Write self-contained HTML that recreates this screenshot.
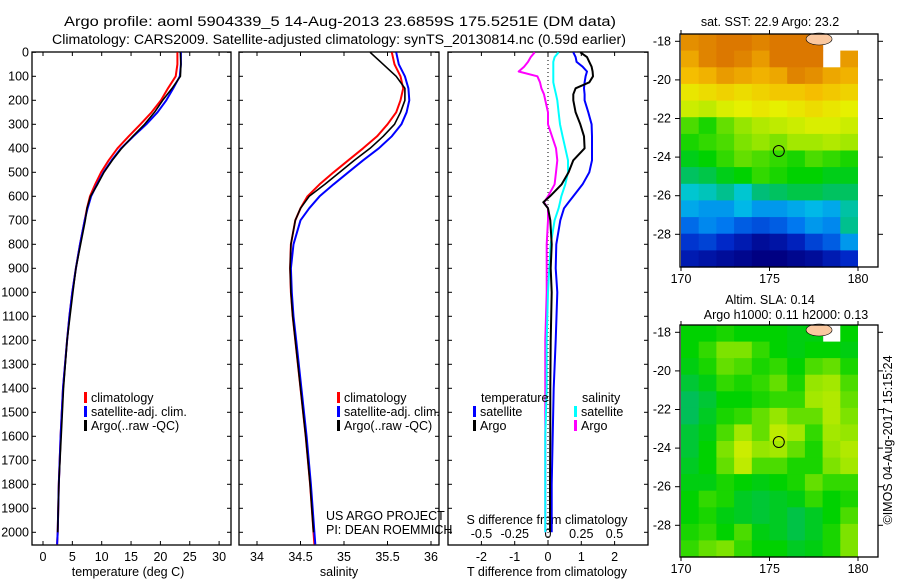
<!DOCTYPE html>
<html><head><meta charset="utf-8">
<style>
html,body{margin:0;padding:0;background:#fff;}
svg{display:block;font-family:"Liberation Sans",sans-serif;}
text{fill:#000;font-size:12.5px;}
</style></head>
<body>
<svg id="chart" width="900" height="580" viewBox="0 0 900 580" xmlns="http://www.w3.org/2000/svg">
<text x="340" y="26" text-anchor="middle" style="font-size:13.5px" textLength="552" lengthAdjust="spacingAndGlyphs">Argo profile: aoml 5904339_5 14-Aug-2013 23.6859S 175.5251E (DM data)</text>
<text x="339" y="44" text-anchor="middle" style="font-size:13.5px" textLength="574" lengthAdjust="spacingAndGlyphs">Climatology: CARS2009. Satellite-adjusted climatology: synTS_20130814.nc (0.59d earlier)</text>
<g id="g1"></g>
<g id="g2"></g>
<g id="g3"></g>
<g id="m1"></g>
<g id="m2"></g>
<text transform="translate(892,440) rotate(-90)" text-anchor="middle" style="font-size:12.5px">©IMOS 04-Aug-2017 15:15:24</text>
</svg>
<script>
// ---- profile data ----
const depths = [0,50,100,150,200,250,300,350,400,450,500,550,600,650,700,800,900,1000,1100,1200,1400,1600,1800,2000,2050];
const tempClim = [22.9,22.9,22.6,21.3,20.1,18.5,16.6,14.6,12.7,11.2,9.9,8.9,8.0,7.5,7.1,6.3,5.6,5.0,4.5,4.1,3.4,3.0,2.7,2.5,2.4];
const tempSat = [23.5,23.5,23.3,22.2,21.0,19.5,17.6,15.4,13.3,11.7,10.3,9.2,8.2,7.6,7.1,6.3,5.6,5.0,4.5,4.1,3.4,3.0,2.7,2.5,2.4];
const tempArgo = [23.4,23.5,23.4,22.0,20.4,19.0,17.3,15.3,13.4,11.8,10.4,9.3,8.1,7.5,7.2,6.4,5.6,5.1,4.6,4.1,3.5,3.1,2.7,2.5];
const salClim = [35.55,35.58,35.65,35.68,35.65,35.6,35.5,35.38,35.22,35.05,34.88,34.72,34.58,34.5,34.44,34.39,34.38,34.39,34.41,34.44,34.5,34.56,34.61,34.65,34.66];
const salSat = [35.6,35.63,35.7,35.74,35.75,35.72,35.66,35.55,35.4,35.22,35.05,34.88,34.72,34.6,34.5,34.42,34.39,34.4,34.42,34.45,34.51,34.57,34.62,34.66,34.67];
const salArgo = [35.3,35.45,35.6,35.7,35.7,35.65,35.58,35.45,35.3,35.12,34.95,34.78,34.6,34.5,34.44,34.39,34.38,34.39,34.41,34.44,34.5,34.56,34.61,34.65];
const diffDepths = [0,20,40,60,80,100,125,150,175,200,250,300,350,400,450,500,550,600,625,650,700,800,900,1000,1200,1400,1600,1800,2000];
const tDiffSat = [0.76,0.83,0.86,1.04,1.17,1.13,1.1,1.08,1.1,1.1,1.21,1.31,1.32,1.32,1.32,1.24,1.04,0.76,0.62,0.48,0.37,0.25,0.23,0.28,0.23,0.17,0.14,0.11,0.11];
const tDiffArgo = [0.97,1.17,1.24,1.31,1.34,1.35,1.24,0.83,0.76,0.76,0.83,0.97,1.08,1.1,0.76,0.62,0.41,0.06,-0.14,0,0.07,0.11,0.08,0.11,0.08,0.07,0.07,0.06,0.06];
const sDiffSat = [0.08,0.05,0.04,0.04,0.04,0.04,0.04,0.05,0.06,0.07,0.08,0.09,0.11,0.13,0.15,0.15,0.13,0.1,0.09,0.08,0.05,0.02,0.01,0.0,-0.01,-0.01,-0.02,-0.02,-0.02];
const sDiffArgo = [-0.1,-0.13,-0.15,-0.18,-0.22,-0.08,-0.06,-0.05,-0.03,-0.02,0.0,0.0,0.03,0.06,0.07,0.06,0.05,0.0,-0.03,0.0,0.0,-0.01,-0.01,-0.01,-0.02,-0.02,-0.02,-0.02,-0.02];
const depthTicks = [0,100,200,300,400,500,600,700,800,900,1000,1100,1200,1300,1400,1500,1600,1700,1800,1900,2000];
const tempTicks = [0,5,10,15,20,25,30];
const salTicks = [34,34.5,35,35.5,36];
const tdTicks = [-2,-1,0,1,2];
const sdTicks = [-0.5,-0.25,0,0.25,0.5];
const sdTickLabels = ['-0.5','-0.25','0','0.25','0.5'];
// ---- map data ----
const mapLats = [-18,-20,-22,-24,-26,-28];
const mapLons = [170,175,180];
const sst = [
[24.4,24.5,24.7,24.6,24.5,24.6,24.7,24.8,null,null],
[24.2,24.5,24.6,24.5,24.3,24.6,24.8,24.6,null,24.3],
[24.0,24.1,24.3,24.2,24.1,24.2,24.5,24.4,24.2,24.1],
[23.6,23.7,23.8,23.7,23.8,23.9,23.9,24.0,23.9,23.8],
[23.3,23.2,23.4,23.5,23.6,23.5,23.6,23.7,23.6,23.5],
[22.6,22.4,22.7,22.9,23.1,23.2,23.3,23.4,23.4,23.3],
[22.4,22.5,22.6,22.8,22.9,22.8,23.0,23.0,23.1,23.0],
[22.2,22.3,22.5,22.7,22.6,22.5,22.4,22.6,22.5,22.4],
[21.9,22.0,22.2,22.3,22.5,22.4,22.3,22.3,22.2,22.2],
[21.4,21.5,21.7,21.4,21.8,21.9,22.0,22.0,21.9,21.9],
[21.1,21.0,21.0,21.2,21.0,21.0,21.1,21.2,21.1,21.6],
[20.7,20.9,20.8,20.6,20.5,20.6,20.8,21.0,20.9,21.7],
[20.3,20.4,20.2,20.0,19.8,19.9,20.1,20.4,20.6,21.0],
[20.0,19.9,19.8,19.7,19.6,19.6,19.7,19.8,20.0,20.2]];
const sla = [
[.08,.08,.09,.08,.08,.08,.07,.07,null,.08],
[.08,.10,.13,.13,.10,.08,.07,.08,.08,.07],
[.07,.09,.12,.11,.09,.10,.08,.11,.12,.09],
[.05,.07,.10,.09,.10,.12,.09,.14,.15,.11],
[.03,.05,.08,.08,.09,.10,.10,.15,.16,.12],
[.03,.06,.09,.10,.12,.14,.12,.12,.16,.13],
[.05,.07,.11,.15,.12,.17,.15,.10,.15,.14],
[.05,.08,.13,.18,.14,.15,.12,.09,.14,.16],
[.06,.08,.12,.17,.11,.11,.09,.09,.13,.15],
[.07,.07,.09,.08,.07,.08,.09,.12,.10,.10],
[.08,.10,.09,.06,.05,.06,.07,.10,.08,.09],
[.08,.09,.07,.06,.05,.06,.04,.06,.08,.11],
[.09,.10,.08,.11,.07,.06,.04,.06,.09,.13],
[.10,.12,.13,.10,.08,.08,.06,.07,.09,.13]];
const floatLon = 175.5251, floatLat = -23.6859;

const NS='http://www.w3.org/2000/svg';
function mk(parent,tag,attrs,txt){const e=document.createElementNS(NS,tag);for(const k in attrs)e.setAttribute(k,attrs[k]);if(txt!==undefined)e.textContent=txt;parent.appendChild(e);return e;}

const TOP=52, BOT=545;
const yD = d => 52.3 + d*0.24;
const xT = v => 43 + v*5.87;
const xS = v => 257 + (v-34)*87;
const xTd = v => 548 + v*33.3;
const xSd = v => 548 + v*133;

function frame(g,x0,x1,name){
  const r=mk(g,'rect',{x:x0,y:TOP,width:x1-x0,height:BOT-TOP,fill:'none',stroke:'#000','stroke-width':1.3});
  
  
  depthTicks.forEach(d=>{const y=yD(d);
    mk(g,'line',{x1:x0,x2:x0+4,y1:y,y2:y,stroke:'#000'});
    mk(g,'line',{x1:x1-4,x2:x1,y1:y,y2:y,stroke:'#000'});});
}
function xticks(g,vals,f,labels,ly,name){
  vals.forEach((v,i)=>{const x=f(v);
    mk(g,'line',{x1:x,x2:x,y1:BOT,y2:BOT-4,stroke:'#000'});
    mk(g,'line',{x1:x,x2:x,y1:TOP,y2:TOP+4,stroke:'#000'});
    const t=mk(g,'text',{x:x,y:ly,'text-anchor':'middle'},labels?labels[i]:String(v));
    
    });
}
function line(g,xs,ds,fx,color,name,w){
  const pts=xs.map((v,i)=>fx(v).toFixed(1)+','+yD(ds[i]).toFixed(1)).join(' ');
  const p=mk(g,'polyline',{points:pts,fill:'none',stroke:color,'stroke-width':w||2,'stroke-linejoin':'round'});
  
  
}
function legend(g,x,y,color,label,name){
  mk(g,'rect',{x:x,y:y-6,width:3,height:11,fill:color});
  const t=mk(g,'text',{x:x+7,y:y+4},label);
  
  
}

// Panel 1
const g1=document.getElementById('g1');
frame(g1,32,231,'temperature-axes-frame');
depthTicks.forEach(d=>{const t=mk(g1,'text',{x:29,y:yD(d)+4,'text-anchor':'end'},String(d));
  
  });
xticks(g1,tempTicks,xT,null,561,'temperature-tick-label');
let t1=mk(g1,'text',{x:128,y:576,'text-anchor':'middle'},'temperature (deg C)');


line(g1,tempClim,depths,xT,'#f00','temp-climatology-line');
line(g1,tempSat,depths,xT,'#00f','temp-satellite-line');
line(g1,tempArgo,depths,xT,'#000','temp-argo-line',1.6);
legend(g1,84,398,'#f00','climatology','legend-climatology');
legend(g1,84,412,'#00f','satellite-adj. clim.','legend-satellite');
legend(g1,84,426,'#000','Argo(..raw -QC)','legend-argo');

// Panel 2
const g2=document.getElementById('g2');
frame(g2,239,439,'salinity-axes-frame');
xticks(g2,salTicks,xS,null,561,'salinity-tick-label');
let t2=mk(g2,'text',{x:339,y:576,'text-anchor':'middle'},'salinity');


line(g2,salClim,depths,xS,'#f00','sal-climatology-line');
line(g2,salSat,depths,xS,'#00f','sal-satellite-line');
line(g2,salArgo,depths,xS,'#000','sal-argo-line',1.6);
legend(g2,337,398,'#f00','climatology','legend-climatology-2');
legend(g2,337,412,'#00f','satellite-adj. clim.','legend-satellite-2');
legend(g2,337,426,'#000','Argo(..raw -QC)','legend-argo-2');
let p1=mk(g2,'text',{x:326,y:520},'US ARGO PROJECT');


let p2=mk(g2,'text',{x:326,y:534},'PI: DEAN ROEMMICH');



// Panel 3
const g3=document.getElementById('g3');
frame(g3,448,648,'difference-axes-frame');
mk(g3,'line',{x1:548,x2:548,y1:TOP,y2:BOT,stroke:'#000','stroke-dasharray':'1,3'});
xticks(g3,tdTicks,xTd,null,561,'t-diff-tick-label');
sdTicks.forEach((v,i)=>{const t=mk(g3,'text',{x:xSd(v),y:538,'text-anchor':'middle'},sdTickLabels[i]);
  
  });
let t3=mk(g3,'text',{x:547,y:524,'text-anchor':'middle'},'S difference from climatology');


let t4=mk(g3,'text',{x:547,y:576,'text-anchor':'middle'},'T difference from climatology');


line(g3,sDiffArgo,diffDepths,xSd,'#f0f','s-diff-argo-line');
line(g3,sDiffSat,diffDepths,xSd,'#0ff','s-diff-satellite-line');
line(g3,tDiffSat,diffDepths,xTd,'#00f','t-diff-satellite-line');
line(g3,tDiffArgo,diffDepths,xTd,'#000','t-diff-argo-line');
let lt=mk(g3,'text',{x:481,y:402},'temperature');


let ls=mk(g3,'text',{x:582,y:402},'salinity');


legend(g3,473,412,'#00f','satellite','legend-t-satellite');
legend(g3,473,426,'#000','Argo','legend-t-argo');
legend(g3,574,412,'#0ff','satellite','legend-s-satellite');
legend(g3,574,426,'#f0f','Argo','legend-s-argo');

// Maps
function interp(stops,v){
  if(v<=stops[0][0])return stops[0][1];
  for(let i=1;i<stops.length;i++){if(v<=stops[i][0]){const a=stops[i-1],b=stops[i],t=(v-a[0])/(b[0]-a[0]);
    return 'rgb('+a[1].map((c,k)=>Math.round(c+(b[1][k]-c)*t)).join(',')+')';}}
  return 'rgb('+stops[stops.length-1][1].join(',')+')';
}
function fix(stops){return stops.map(s=>[s[0],s[1]]);}
const sstStops=[[19.6,[0,0,130]],[20.2,[0,40,200]],[20.8,[0,120,240]],[21.3,[0,200,230]],[21.8,[0,190,120]],[22.3,[0,210,0]],[22.9,[150,230,0]],[23.5,[230,240,0]],[24.0,[245,190,0]],[24.6,[220,120,0]]];
const slaStops=[[0.0,[0,180,140]],[0.08,[0,210,0]],[0.14,[150,230,0]],[0.2,[230,240,0]],[0.26,[240,200,0]]];
function interpC(stops,v){
  if(v<=stops[0][0])return 'rgb('+stops[0][1].join(',')+')';
  return interp(stops,v);
}
function drawMap(id,grid,stops,top,bot,title1,title2,name){
  const g=document.getElementById(id);
  const xL=v=>681+(v-170)*17.7;
  const lat18=top+7.3;
  const yL=v=>lat18+(-18-v)*19.3;
  const latTop=-18+(lat18-top)/19.3, latBot=-18-(bot-lat18)/19.3;
  const rows=grid.length, cols=grid[0].length, dl=(latTop-latBot)/rows;
  grid.forEach((row,r)=>row.forEach((v,c)=>{
    if(v===null)return;
    const x0=xL(170+c), y0=yL(latTop-r*dl);
    const cell=mk(g,'rect',{x:x0.toFixed(1),y:y0.toFixed(1),width:(17.7+0.6).toFixed(1),height:(dl*19.3+0.6).toFixed(1),fill:interpC(stops,v)});
    
    
  }));
  mk(g,'ellipse',{cx:xL(177.8),cy:top+5,rx:13,ry:6,fill:'#fac8a0',stroke:'#000','stroke-width':0.6});
  mk(g,'rect',{x:xL(180),y:top,width:878-xL(180),height:bot-top,fill:'#fff'});
  const fr=mk(g,'rect',{x:680,y:top,width:198,height:bot-top,fill:'none',stroke:'#000','stroke-width':1.3});
  
  
  const circ=mk(g,'circle',{cx:xL(floatLon),cy:yL(floatLat),r:5.5,fill:'none',stroke:'#000','stroke-width':1});
  
  
  mapLats.forEach(v=>{const y=yL(v);
    mk(g,'line',{x1:680,x2:675,y1:y,y2:y,stroke:'#000'});
    mk(g,'line',{x1:878,x2:883,y1:y,y2:y,stroke:'#000'});
    const t=mk(g,'text',{x:671,y:y+4,'text-anchor':'end'},String(v));
    
    });
  mapLons.forEach(v=>{const x=xL(v);
    mk(g,'line',{x1:x,x2:x,y1:bot,y2:bot+4,stroke:'#000'});
    mk(g,'line',{x1:x,x2:x,y1:top,y2:top-4,stroke:'#000'});
    const t=mk(g,'text',{x:x,y:bot+16,'text-anchor':'middle'},String(v));
    
    });
  const tt=mk(g,'text',{x:770,y:title2?top-21:top-8,'text-anchor':'middle'},title1);
  
  
  if(title2){const t2=mk(g,'text',{x:786,y:top-6,'text-anchor':'middle'},title2);
    
    }
}
drawMap('m1',sst,sstStops,34,267,'sat. SST: 22.9 Argo: 23.2',null,'sst-map');
drawMap('m2',sla,slaStops,325,557,'Altim. SLA: 0.14','Argo h1000: 0.11 h2000: 0.13','sla-map');
</script>
</body></html>
